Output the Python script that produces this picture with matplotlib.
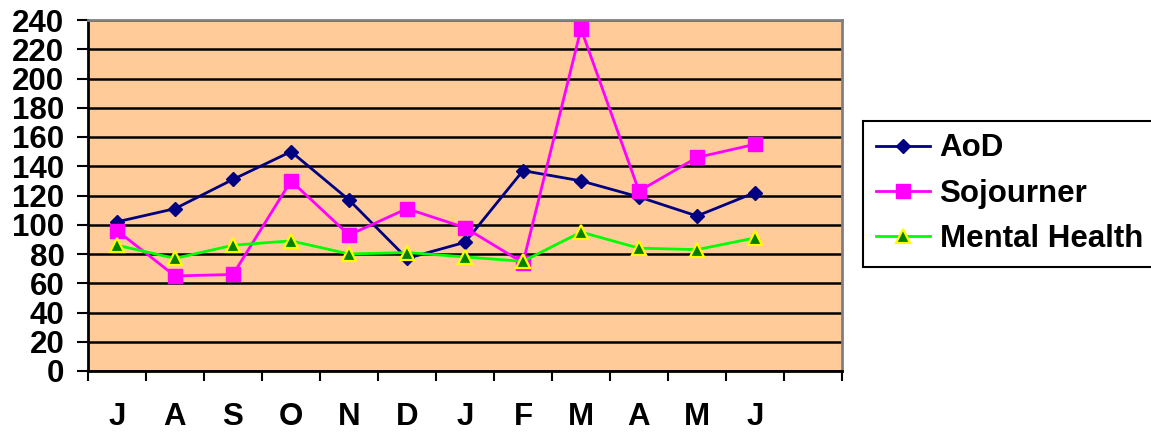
import matplotlib
matplotlib.use("Agg")
import matplotlib.pyplot as plt
from matplotlib.ticker import MultipleLocator, FixedLocator, NullFormatter, FixedFormatter

months = ["J", "A", "S", "O", "N", "D", "J", "F", "M", "A", "M", "J"]
aod = [102, 111, 131, 150, 117, 77, 88, 137, 130, 119, 106, 122]
sojourner = [96, 65, 66, 130, 93, 111, 98, 74, 234, 123, 146, 155]
mental_health = [86, 77, 86, 89, 80, 81, 78, 75, 95, 84, 83, 91]
n_slots = 13

W, H = 1151, 432
fig = plt.figure(figsize=(W / 100, H / 100), dpi=100)
ax = fig.add_axes([88 / W, 1 - 371 / H, (842 - 88) / W, (371 - 20) / H])
ax.set_facecolor("#FFCC99")

font = ["Liberation Sans", "DejaVu Sans"]
narrow = ["Liberation Sans Narrow", "Liberation Sans", "DejaVu Sans"]
fs = 22.5

xs = [i + 0.5 for i in range(len(months))]
ax.plot(xs, aod, color="#000080", lw=2, marker="D", ms=7.5,
        mfc="#000080", mec="#000080", label="AoD", zorder=4)
ax.plot(xs, sojourner, color="#FF00FF", lw=2, marker="s", ms=10,
        mfc="#FF00FF", mec="#FF00FF", label="Sojourner", zorder=4)
ax.plot(xs, mental_health, color="#00FF00", lw=2, marker="^", ms=10,
        mfc="#008000", mec="#FFFF00", mew=1.6, label="Mental Health", zorder=4)

ax.set_xlim(0, n_slots)
ax.set_ylim(0, 240)
ax.yaxis.set_major_locator(MultipleLocator(20))
ax.grid(axis="y", color="black", lw=1.8)
ax.set_axisbelow(True)

ax.xaxis.set_major_locator(FixedLocator(range(n_slots + 1)))
ax.xaxis.set_major_formatter(NullFormatter())
ax.xaxis.set_minor_locator(FixedLocator(xs))
ax.xaxis.set_minor_formatter(FixedFormatter(months))
ax.tick_params(axis="x", which="major", direction="out", length=7, width=1.5, color="black")
ax.tick_params(axis="x", which="minor", length=0, pad=22)
ax.tick_params(axis="y", direction="out", length=8, width=1.5, pad=9)

for lbl in ax.get_yticklabels():
    lbl.set_family(font)
    lbl.set_fontweight("bold")
    lbl.set_fontsize(fs)
for lbl in ax.xaxis.get_minorticklabels():
    lbl.set_family(narrow)
    lbl.set_fontweight("bold")
    lbl.set_fontsize(fs)

for side in ("left", "bottom"):
    ax.spines[side].set_color("black")
    ax.spines[side].set_linewidth(2)
for side in ("top", "right"):
    ax.spines[side].set_color("#808080")
    ax.spines[side].set_linewidth(2)

leg = fig.legend(loc="upper left", bbox_to_anchor=(863 / W, 1 - 121 / H),
                 bbox_transform=fig.transFigure, borderaxespad=0,
                 prop={"family": font, "weight": "bold", "size": fs},
                 handlelength=1.75, handletextpad=0.3, labelspacing=0.49,
                 borderpad=0.4, fancybox=False, framealpha=1)
leg.get_frame().set_edgecolor("black")
leg.get_frame().set_linewidth(1.5)

fig.savefig("out.png", dpi=100)
